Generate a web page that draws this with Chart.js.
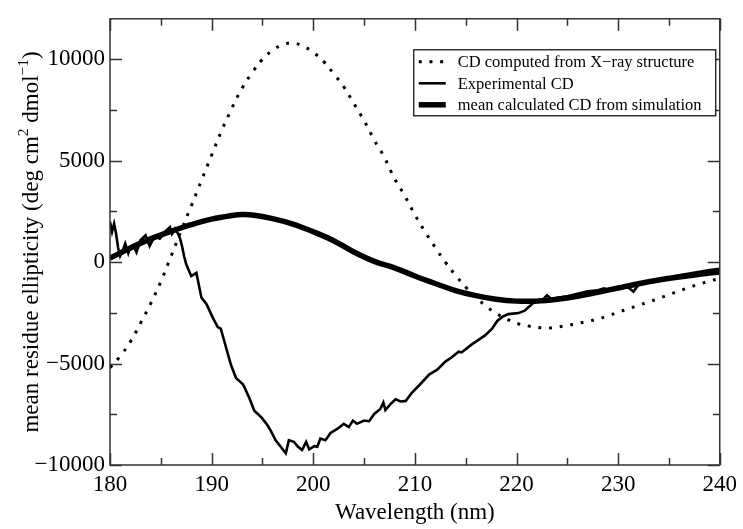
<!DOCTYPE html>
<html>
<head>
<meta charset="utf-8">
<script src="https://cdn.jsdelivr.net/npm/chart.js@4.4.0/dist/chart.umd.min.js"></script>
<style>
  body { margin: 0; background: #fff; }
  canvas { display: block; }
</style>
</head>
<body>
<canvas id="myChart" width="743" height="529"></canvas>
<script>
// CD computed from X-ray structure (dotted)
var xrayWl = [180, 181, 182, 183, 184, 185, 186, 187, 188, 189, 190, 191, 192, 193, 194, 195, 196, 197, 198, 199,
              200, 201, 202, 203, 204, 205, 206, 207, 208, 209, 210, 211, 212, 213, 214, 215, 216, 217, 218, 219,
              220, 221, 222, 223, 224, 225, 226, 227, 228, 229, 230, 231, 232, 233, 234, 235, 236, 237, 238, 239, 240];
var xrayCd = [-5200, -4640, -3930, -3010, -2040, -960, 280, 1550, 2780, 4030, 5280, 6500, 7600, 8580, 9350, 10000, 10450, 10720, 10810, 10650,
              10350, 9900, 9300, 8650, 7820, 6980, 6030, 5170, 4120, 3280, 2340, 1500, 730, 0, -640, -1230, -1720, -2170, -2520, -2790,
              -3010, -3130, -3210, -3250, -3200, -3120, -3020, -2920, -2800, -2650, -2470, -2300, -2130, -1960, -1790, -1600, -1420, -1240, -1080, -930, -800];

// mean calculated CD from simulation (thick)
var simWl = [180, 182, 184, 186, 188, 190, 192, 193, 194, 196, 198, 200, 202, 204, 206, 208, 210, 212, 214, 216,
             218, 220, 222, 224, 226, 228, 230, 232, 234, 236, 238, 240];
var simCd = [200, 700, 1150, 1520, 1850, 2120, 2300, 2350, 2330, 2150, 1880, 1500, 1060, 500, 40, -280, -680, -1050, -1400, -1650,
             -1830, -1920, -1920, -1830, -1680, -1480, -1270, -1060, -880, -730, -600, -480];

// experimental CD (noisy)
var expWl = [180.0, 180.2, 180.4, 180.6, 180.8, 181.0, 181.2, 181.5, 181.8, 182.0, 182.3, 182.6, 183.0, 183.5, 183.9, 184.4, 184.9, 185.4, 185.9, 186.1,
             186.4, 186.7, 186.9, 187.1, 187.3, 187.5, 188.0, 188.5, 189.0, 189.5, 190.1, 190.6, 190.9, 191.4, 191.9, 192.4, 193.1, 193.7, 194.2, 194.9,
             195.4, 195.8, 196.3, 196.8, 197.3, 197.6, 198.1, 198.5, 198.9, 199.3, 199.6, 200.1, 200.4, 200.7, 201.2, 201.7, 202.4, 203.0, 203.5, 203.9,
             204.3, 205.0, 205.5, 206.0, 206.6, 206.9, 207.1, 207.6, 208.1, 208.6, 209.1, 209.7, 210.5, 211.4, 212.2, 213.0, 213.6, 214.3, 214.6, 215.5,
             216.3, 216.9, 217.6, 218.1, 218.6, 219.2, 220.2, 220.8, 221.7, 222.2, 222.6, 223.0, 223.5, 224.0, 225.0, 226.0, 227.0, 228.0, 228.6, 229.2,
             230.0, 231.0, 231.5, 232.0, 233.0, 234.0, 235.0, 236.0, 237.0, 238.0, 239.0, 240.0];
var expCd = [1990, 1500, 1900, 1400, 700, 300, 500, 920, 440, 750, 840, 490, 1080, 1320, 790, 1280, 1160, 1490, 1730, 1400,
             1650, 1400, 1160, 760, 280, -100, -690, -530, -1750, -2070, -2720, -3200, -3280, -4170, -5060, -5710, -6030, -6680, -7320, -7650,
             -7970, -8290, -8780, -9100, -9420, -8780, -8860, -9100, -9260, -8860, -9230, -9070, -9100, -8700, -8780, -8420, -8210, -7970, -8130, -7810,
             -7970, -7810, -7840, -7480, -7240, -6920, -7290, -7000, -6760, -6870, -6840, -6440, -6030, -5540, -5300, -4900, -4700, -4410, -4450, -4090,
             -3820, -3610, -3280, -2900, -2700, -2560, -2510, -2390, -1990, -1950, -1850, -1630, -1850, -1750, -1680, -1560, -1440, -1380, -1290, -1380,
             -1300, -1250, -1450, -1120, -1000, -860, -760, -640, -560, -470, -390, -330];

var xTicks = [180, 190, 200, 210, 220, 230, 240];
var xMinor = [185, 195, 205, 215, 225, 235];
var yTicks = [-10000, -5000, 0, 5000, 10000];
var yMinor = [-7500, -2500, 2500, 7500];

function pts(xs, ys) {
    return xs.map(function (x, i) { return { x: x, y: ys[i] }; });
}

var serif = '"Liberation Serif", "DejaVu Serif", serif';

// frame with inward ticks on all four sides, the boxed legend and the y title
var framePlugin = {
    id: 'frame',
    afterDraw: function (chart) {
        var ctx = chart.ctx, a = chart.chartArea;
        var sx = chart.scales.x, sy = chart.scales.y;
        ctx.save();
        ctx.strokeStyle = '#333';
        ctx.lineWidth = 1.5;
        ctx.strokeRect(a.left, a.top, a.right - a.left, a.bottom - a.top);
        ctx.beginPath();
        function xt(list, len) {
            list.forEach(function (v) {
                var p = Math.round(sx.getPixelForValue(v)) + 0.5;
                ctx.moveTo(p, a.bottom); ctx.lineTo(p, a.bottom - len);
                ctx.moveTo(p, a.top); ctx.lineTo(p, a.top + len);
            });
        }
        function yt(list, len) {
            list.forEach(function (v) {
                var p = Math.round(sy.getPixelForValue(v)) + 0.5;
                ctx.moveTo(a.left, p); ctx.lineTo(a.left + len, p);
                ctx.moveTo(a.right, p); ctx.lineTo(a.right - len, p);
            });
        }
        xt(xTicks, 12); xt(xMinor, 7);
        yt(yTicks, 12); yt(yMinor, 7);
        ctx.stroke();

        // legend
        var lx = a.right - 306, ly = a.top + 31, lw = 302, lh = 66;
        ctx.fillStyle = '#fff';
        ctx.fillRect(lx, ly, lw, lh);
        ctx.strokeStyle = '#000';
        ctx.lineWidth = 1.2;
        ctx.strokeRect(lx, ly, lw, lh);
        ctx.font = '16.5px ' + serif;
        ctx.textBaseline = 'middle';
        chart.data.datasets.forEach(function (ds, i) {
            var ry = ly + 12 + i * 21.5;
            ctx.beginPath();
            ctx.strokeStyle = '#000';
            ctx.lineWidth = ds.borderWidth;
            ctx.setLineDash(ds.borderDash || []);
            ctx.moveTo(lx + 5, ry); ctx.lineTo(lx + 32, ry);
            ctx.stroke();
            ctx.setLineDash([]);
            ctx.fillStyle = '#000';
            ctx.fillText(ds.label, lx + 44, ry + 1);
        });

        // y axis title with superscripts
        var big = '23px ' + serif, small = '15.5px ' + serif;
        var parts = [
            ['mean residue ellipticity (deg cm', big, 0],
            ['2', small, 10],
            [' dmol', big, 0],
            ['\u22121', small, 10],
            [')', big, 0]
        ];
        var w = 0;
        parts.forEach(function (p) { ctx.font = p[1]; w += ctx.measureText(p[0]).width; });
        ctx.translate(38, (a.top + a.bottom) / 2);
        ctx.rotate(-Math.PI / 2);
        ctx.textBaseline = 'alphabetic';
        var x = -w / 2;
        parts.forEach(function (p) {
            ctx.font = p[1];
            ctx.fillText(p[0], x, -p[2]);
            x += ctx.measureText(p[0]).width;
        });
        ctx.restore();
    }
};

var ctx = document.getElementById('myChart').getContext('2d');

var myChart = new Chart(ctx, {
    type: 'line',
    data: {
        datasets: [{
            label: 'CD computed from X\u2212ray structure',
            data: pts(xrayWl, xrayCd),
            borderColor: '#000',
            borderWidth: 3,
            borderDash: [3, 7.7],
            borderCapStyle: 'butt',
            pointRadius: 0,
            tension: 0.4
        }, {
            label: 'Experimental CD',
            data: pts(expWl, expCd),
            borderColor: '#000',
            borderWidth: 2.6,
            pointRadius: 0,
            tension: 0
        }, {
            label: 'mean calculated CD from simulation',
            data: pts(simWl, simCd),
            borderColor: '#000',
            borderWidth: 5.5,
            pointRadius: 0,
            tension: 0.4
        }]
    },
    options: {
        responsive: false,
        animation: false,
        layout: { padding: { left: 0, right: 21, top: 12, bottom: 0 } },
        plugins: {
            legend: { display: false },
            tooltip: { enabled: false }
        },
        scales: {
            x: {
                type: 'linear',
                min: 180,
                max: 240,
                afterBuildTicks: function (s) { s.ticks = xTicks.map(function (v) { return { value: v }; }); },
                afterFit: function (s) { s.height = 64; },
                grid: { drawOnChartArea: false, drawTicks: false },
                border: { display: false },
                ticks: { font: { family: serif, size: 23 }, color: '#000', padding: 6, maxRotation: 0, autoSkip: false },
                title: { display: true, text: 'Wavelength (nm)', color: '#000', font: { family: serif, size: 23 }, padding: { top: 0, bottom: 2 } }
            },
            y: {
                min: -10000,
                max: 12000,
                afterBuildTicks: function (s) { s.ticks = yTicks.map(function (v) { return { value: v }; }); },
                afterFit: function (s) { s.width = 110; },
                grid: { drawOnChartArea: false, drawTicks: false },
                border: { display: false },
                ticks: {
                    font: { family: serif, size: 23 },
                    color: '#000',
                    padding: 5,
                    callback: function (v) { return v < 0 ? '\u2212' + Math.abs(v) : String(v); }
                }
            }
        }
    },
    plugins: [framePlugin]
});
</script>
</body>
</html>
